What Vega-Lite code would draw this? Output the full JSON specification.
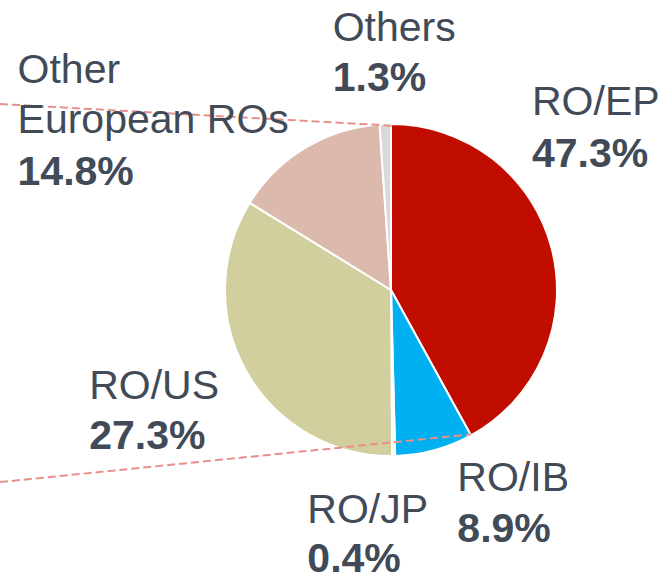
{
  "$schema": "https://vega.github.io/schema/vega-lite/v6.json",
  "width": 660,
  "height": 575,
  "autosize": {"type": "none"},
  "padding": 0,
  "background": "white",
  "config": {"view": {"stroke": null}},
  "data": {
    "values": [
      {"label": "RO/EP", "name": "RO/EP", "share": 0.473, "slice": 42.0, "order": 1},
      {"label": "RO/IB", "name": "RO/IB", "share": 0.089, "slice": 7.6, "order": 2},
      {"label": "RO/JP", "name": "RO/JP", "share": 0.004, "slice": 0.3, "order": 3},
      {"label": "RO/US", "name": "RO/US", "share": 0.273, "slice": 33.9, "order": 4},
      {"label": "Other European ROs", "name": "Other\nEuropean ROs", "share": 0.148, "slice": 15.1, "order": 5},
      {"label": "Others", "name": "Others", "share": 0.013, "slice": 1.1, "order": 6}
    ]
  },
  "layer": [
    {
      "mark": {"type": "arc", "outerRadius": 166, "stroke": "white", "strokeWidth": 2},
      "encoding": {
        "theta": {"field": "slice", "type": "quantitative", "stack": true},
        "order": {"field": "order", "type": "quantitative"},
        "x": {"datum": 0, "type": "quantitative", "scale": {"domain": [-2.3554, 1.6205], "nice": false, "zero": false}, "axis": null},
        "y": {"datum": 0, "type": "quantitative", "scale": {"domain": [-1.7169, 1.747], "nice": false, "zero": false}, "axis": null},
        "color": {
          "field": "label", "type": "nominal", "legend": null,
          "scale": {
            "domain": ["RO/EP", "RO/IB", "RO/JP", "RO/US", "Other European ROs", "Others"],
            "range": ["#C00D00", "#00B0F0", "#F2F2F2", "#D1CF9E", "#DCB9AD", "#D9D9D9"]
          }
        }
      }
    },
    {
      "data": {
        "values": [
          {"line": "top", "px": -2.3554, "py": 1.1205, "pt": 1},
          {"line": "top", "px": 0.006, "py": 0.9898, "pt": 2},
          {"line": "bottom", "px": -2.3554, "py": -1.1572, "pt": 1},
          {"line": "bottom", "px": 0.481, "py": -0.87, "pt": 2}
        ]
      },
      "mark": {"type": "line", "color": "#E8908A", "strokeWidth": 2, "strokeDash": [8, 4]},
      "encoding": {
        "x": {"field": "px", "type": "quantitative", "scale": {"domain": [-2.3554, 1.6205], "nice": false, "zero": false}, "axis": null},
        "y": {"field": "py", "type": "quantitative", "scale": {"domain": [-1.7169, 1.747], "nice": false, "zero": false}, "axis": null},
        "detail": {"field": "line", "type": "nominal"},
        "order": {"field": "pt", "type": "quantitative"}
      }
    },
    {
      "mark": {"type": "text", "radius": 200, "align": "left", "baseline": "alphabetic", "dx": -52.7, "dy": -125.3, "font": "Liberation Sans", "fontSize": 41, "color": "#414A56"},
      "encoding": {
        "theta": {"field": "slice", "type": "quantitative", "stack": true},
        "order": {"field": "order", "type": "quantitative"},
        "x": {"datum": 0, "type": "quantitative", "scale": {"domain": [-2.3554, 1.6205], "nice": false, "zero": false}, "axis": null},
        "y": {"datum": 0, "type": "quantitative", "scale": {"domain": [-1.7169, 1.747], "nice": false, "zero": false}, "axis": null},
        "text": {"condition": {"test": "datum.label === 'RO/EP'", "field": "name"}, "value": ""}
      }
    },
    {
      "mark": {"type": "text", "radius": 200, "align": "left", "baseline": "alphabetic", "dx": -52.7, "dy": -73.3, "font": "Liberation Sans", "fontSize": 41, "fontWeight": "bold", "color": "#414A56"},
      "encoding": {
        "theta": {"field": "slice", "type": "quantitative", "stack": true},
        "order": {"field": "order", "type": "quantitative"},
        "x": {"datum": 0, "type": "quantitative", "scale": {"domain": [-2.3554, 1.6205], "nice": false, "zero": false}, "axis": null},
        "y": {"datum": 0, "type": "quantitative", "scale": {"domain": [-1.7169, 1.747], "nice": false, "zero": false}, "axis": null},
        "text": {"condition": {"test": "datum.label === 'RO/EP'", "field": "share", "format": ".1%"}, "value": ""}
      }
    },
    {
      "mark": {"type": "text", "radius": 200, "align": "left", "baseline": "alphabetic", "dx": 14.2, "dy": 7.8, "font": "Liberation Sans", "fontSize": 41, "color": "#414A56"},
      "encoding": {
        "theta": {"field": "slice", "type": "quantitative", "stack": true},
        "order": {"field": "order", "type": "quantitative"},
        "x": {"datum": 0, "type": "quantitative", "scale": {"domain": [-2.3554, 1.6205], "nice": false, "zero": false}, "axis": null},
        "y": {"datum": 0, "type": "quantitative", "scale": {"domain": [-1.7169, 1.747], "nice": false, "zero": false}, "axis": null},
        "text": {"condition": {"test": "datum.label === 'RO/IB'", "field": "name"}, "value": ""}
      }
    },
    {
      "mark": {"type": "text", "radius": 200, "align": "left", "baseline": "alphabetic", "dx": 14.2, "dy": 58.8, "font": "Liberation Sans", "fontSize": 41, "fontWeight": "bold", "color": "#414A56"},
      "encoding": {
        "theta": {"field": "slice", "type": "quantitative", "stack": true},
        "order": {"field": "order", "type": "quantitative"},
        "x": {"datum": 0, "type": "quantitative", "scale": {"domain": [-2.3554, 1.6205], "nice": false, "zero": false}, "axis": null},
        "y": {"datum": 0, "type": "quantitative", "scale": {"domain": [-1.7169, 1.747], "nice": false, "zero": false}, "axis": null},
        "text": {"condition": {"test": "datum.label === 'RO/IB'", "field": "share", "format": ".1%"}, "value": ""}
      }
    },
    {
      "mark": {"type": "text", "radius": 200, "align": "left", "baseline": "alphabetic", "dx": -86.8, "dy": 33, "font": "Liberation Sans", "fontSize": 41, "color": "#414A56"},
      "encoding": {
        "theta": {"field": "slice", "type": "quantitative", "stack": true},
        "order": {"field": "order", "type": "quantitative"},
        "x": {"datum": 0, "type": "quantitative", "scale": {"domain": [-2.3554, 1.6205], "nice": false, "zero": false}, "axis": null},
        "y": {"datum": 0, "type": "quantitative", "scale": {"domain": [-1.7169, 1.747], "nice": false, "zero": false}, "axis": null},
        "text": {"condition": {"test": "datum.label === 'RO/JP'", "field": "name"}, "value": ""}
      }
    },
    {
      "mark": {"type": "text", "radius": 200, "align": "left", "baseline": "alphabetic", "dx": -86.8, "dy": 82, "font": "Liberation Sans", "fontSize": 41, "fontWeight": "bold", "color": "#414A56"},
      "encoding": {
        "theta": {"field": "slice", "type": "quantitative", "stack": true},
        "order": {"field": "order", "type": "quantitative"},
        "x": {"datum": 0, "type": "quantitative", "scale": {"domain": [-2.3554, 1.6205], "nice": false, "zero": false}, "axis": null},
        "y": {"datum": 0, "type": "quantitative", "scale": {"domain": [-1.7169, 1.747], "nice": false, "zero": false}, "axis": null},
        "text": {"condition": {"test": "datum.label === 'RO/JP'", "field": "share", "format": ".1%"}, "value": ""}
      }
    },
    {
      "mark": {"type": "text", "radius": 200, "align": "left", "baseline": "alphabetic", "dx": -127.5, "dy": 11.3, "font": "Liberation Sans", "fontSize": 41, "color": "#414A56"},
      "encoding": {
        "theta": {"field": "slice", "type": "quantitative", "stack": true},
        "order": {"field": "order", "type": "quantitative"},
        "x": {"datum": 0, "type": "quantitative", "scale": {"domain": [-2.3554, 1.6205], "nice": false, "zero": false}, "axis": null},
        "y": {"datum": 0, "type": "quantitative", "scale": {"domain": [-1.7169, 1.747], "nice": false, "zero": false}, "axis": null},
        "text": {"condition": {"test": "datum.label === 'RO/US'", "field": "name"}, "value": ""}
      }
    },
    {
      "mark": {"type": "text", "radius": 200, "align": "left", "baseline": "alphabetic", "dx": -127.5, "dy": 61.3, "font": "Liberation Sans", "fontSize": 41, "fontWeight": "bold", "color": "#414A56"},
      "encoding": {
        "theta": {"field": "slice", "type": "quantitative", "stack": true},
        "order": {"field": "order", "type": "quantitative"},
        "x": {"datum": 0, "type": "quantitative", "scale": {"domain": [-2.3554, 1.6205], "nice": false, "zero": false}, "axis": null},
        "y": {"datum": 0, "type": "quantitative", "scale": {"domain": [-1.7169, 1.747], "nice": false, "zero": false}, "axis": null},
        "text": {"condition": {"test": "datum.label === 'RO/US'", "field": "share", "format": ".1%"}, "value": ""}
      }
    },
    {
      "mark": {"type": "text", "radius": 200, "align": "left", "baseline": "alphabetic", "dx": -270, "dy": -35.6, "lineBreak": "\n", "lineHeight": 50, "font": "Liberation Sans", "fontSize": 41, "color": "#414A56"},
      "encoding": {
        "theta": {"field": "slice", "type": "quantitative", "stack": true},
        "order": {"field": "order", "type": "quantitative"},
        "x": {"datum": 0, "type": "quantitative", "scale": {"domain": [-2.3554, 1.6205], "nice": false, "zero": false}, "axis": null},
        "y": {"datum": 0, "type": "quantitative", "scale": {"domain": [-1.7169, 1.747], "nice": false, "zero": false}, "axis": null},
        "text": {"condition": {"test": "datum.label === 'Other European ROs'", "field": "name"}, "value": ""}
      }
    },
    {
      "mark": {"type": "text", "radius": 200, "align": "left", "baseline": "alphabetic", "dx": -270, "dy": 66.4, "font": "Liberation Sans", "fontSize": 41, "fontWeight": "bold", "color": "#414A56"},
      "encoding": {
        "theta": {"field": "slice", "type": "quantitative", "stack": true},
        "order": {"field": "order", "type": "quantitative"},
        "x": {"datum": 0, "type": "quantitative", "scale": {"domain": [-2.3554, 1.6205], "nice": false, "zero": false}, "axis": null},
        "y": {"datum": 0, "type": "quantitative", "scale": {"domain": [-1.7169, 1.747], "nice": false, "zero": false}, "axis": null},
        "text": {"condition": {"test": "datum.label === 'Other European ROs'", "field": "share", "format": ".1%"}, "value": ""}
      }
    },
    {
      "mark": {"type": "text", "radius": 200, "align": "left", "baseline": "alphabetic", "dx": -51.4, "dy": -49.1, "font": "Liberation Sans", "fontSize": 41, "color": "#414A56"},
      "encoding": {
        "theta": {"field": "slice", "type": "quantitative", "stack": true},
        "order": {"field": "order", "type": "quantitative"},
        "x": {"datum": 0, "type": "quantitative", "scale": {"domain": [-2.3554, 1.6205], "nice": false, "zero": false}, "axis": null},
        "y": {"datum": 0, "type": "quantitative", "scale": {"domain": [-1.7169, 1.747], "nice": false, "zero": false}, "axis": null},
        "text": {"condition": {"test": "datum.label === 'Others'", "field": "name"}, "value": ""}
      }
    },
    {
      "mark": {"type": "text", "radius": 200, "align": "left", "baseline": "alphabetic", "dx": -51.4, "dy": 0.9, "font": "Liberation Sans", "fontSize": 41, "fontWeight": "bold", "color": "#414A56"},
      "encoding": {
        "theta": {"field": "slice", "type": "quantitative", "stack": true},
        "order": {"field": "order", "type": "quantitative"},
        "x": {"datum": 0, "type": "quantitative", "scale": {"domain": [-2.3554, 1.6205], "nice": false, "zero": false}, "axis": null},
        "y": {"datum": 0, "type": "quantitative", "scale": {"domain": [-1.7169, 1.747], "nice": false, "zero": false}, "axis": null},
        "text": {"condition": {"test": "datum.label === 'Others'", "field": "share", "format": ".1%"}, "value": ""}
      }
    }
  ]
}
